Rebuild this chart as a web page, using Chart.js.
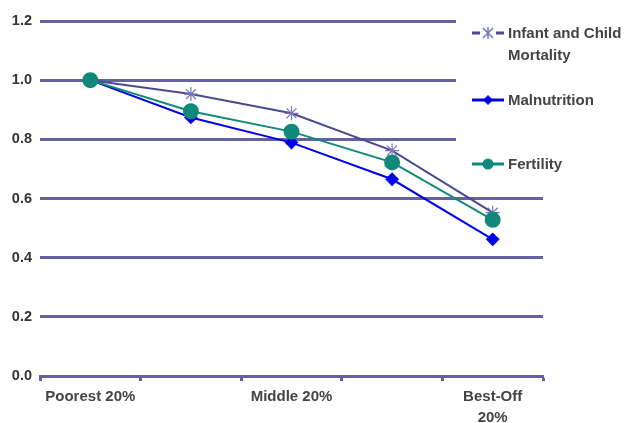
<!DOCTYPE html>
<html>
<head>
<meta charset="utf-8">
<script src="https://cdn.jsdelivr.net/npm/chart.js@4/dist/chart.umd.min.js"></script>
<style>
  html, body { margin: 0; padding: 0; background: #fff; }
  #wrap { position: relative; width: 624px; height: 423px; }
  #chart { position: absolute; left: 0; top: 0; }
  .legend-item { position: absolute; left: 470px; display: flex; align-items: flex-start;
    font: bold 15px "Liberation Sans", Arial, sans-serif; color: #444; line-height: 22px; }
</style>
</head>
<body>
<div id="wrap">
  <canvas id="chart" width="624" height="423"></canvas>
  <div class="legend-item" style="top: 22px;"><canvas id="leg-0" width="38" height="22"></canvas><span>Infant and Child<br>Mortality</span></div>
  <div class="legend-item" style="top: 89px;"><canvas id="leg-1" width="38" height="22"></canvas><span>Malnutrition</span></div>
  <div class="legend-item" style="top: 153px;"><canvas id="leg-2" width="38" height="22"></canvas><span>Fertility</span></div>
</div>
<script>
const categories = ["Poorest 20%", "", "Middle 20%", "", ["Best-Off", "20%"]];
const yTicks = [0, 0.2, 0.4, 0.6, 0.8, 1.0, 1.2];

const mortality = [1.0, 0.953, 0.888, 0.762, 0.552];
const malnutrition = [1.0, 0.874, 0.789, 0.665, 0.462];
const fertility = [1.0, 0.895, 0.826, 0.722, 0.528];

const GRID_COLOR = "#6461a3";
const FONT_FAMILY = "'Liberation Sans', Arial, sans-serif";

// the legend box hides the right end of the top grid lines
const legendMask = {
  id: "legendMask",
  beforeDatasetsDraw(chart) {
    const ctx = chart.ctx;
    ctx.save();
    ctx.fillStyle = "#fff";
    ctx.fillRect(456, 0, 624 - 456, 180);
    ctx.restore();
  },
};

new Chart(document.getElementById("chart").getContext("2d"), {
  type: "line",
  data: {
    labels: categories,
    datasets: [
      {
        label: "Infant and Child Mortality",
        data: mortality,
        borderColor: "#4b4a90",
        borderWidth: 2,
        pointStyle: "star",
        pointRadius: 7,
        pointBorderColor: "#7676bc",
        pointBorderWidth: 1.2,
        pointBackgroundColor: "#7676bc",
        order: 2,
      },
      {
        label: "Malnutrition",
        data: malnutrition,
        borderColor: "#0000f0",
        borderWidth: 2,
        pointStyle: "rectRot",
        pointRadius: 5.5,
        pointBorderColor: "#0000f0",
        pointBackgroundColor: "#0000f0",
        order: 1,
      },
      {
        label: "Fertility",
        data: fertility,
        borderColor: "#10897a",
        borderWidth: 2,
        pointStyle: "circle",
        pointRadius: 7,
        pointBorderColor: "#10897a",
        pointBackgroundColor: "#10897a",
        order: 0,
      },
    ],
  },
  options: {
    responsive: false,
    animation: false,
    layout: { padding: { top: 21, right: 81, left: 0, bottom: 0 } },
    plugins: { legend: { display: false }, tooltip: { enabled: false } },
    elements: { line: { tension: 0 } },
    scales: {
      x: {
        offset: true,
        grid: {
          display: true,
          offset: true,
          drawOnChartArea: false,
          drawTicks: true,
          tickLength: 5,
          tickWidth: 3,
          tickColor: GRID_COLOR,
        },
        border: { display: true, color: GRID_COLOR, width: 3 },
        ticks: {
          autoSkip: false,
          maxRotation: 0,
          padding: 6,
          color: "#444",
          font: { family: FONT_FAMILY, size: 15, weight: "bold", lineHeight: 1.35 },
        },
        afterFit(scale) { scale.height = 47; },
      },
      y: {
        min: 0,
        max: 1.2,
        afterBuildTicks(scale) { scale.ticks = yTicks.map((v) => ({ value: v })); },
        grid: { color: GRID_COLOR, lineWidth: 3, drawTicks: false },
        border: { display: false },
        ticks: {
          padding: 8,
          color: "#333",
          font: { family: FONT_FAMILY, size: 14.5, weight: "bold" },
          callback: (v) => Number(v).toFixed(1),
        },
        afterFit(scale) { scale.width = 40; },
      },
    },
  },
  plugins: [legendMask],
});

// legend samples
function drawSample(id, color, markerColor, kind) {
  const ctx = document.getElementById(id).getContext("2d");
  const y = 11;
  const cx = 18;
  ctx.lineWidth = 3;
  ctx.strokeStyle = color;
  ctx.fillStyle = markerColor;
  ctx.beginPath();
  if (kind === "star") {
    ctx.moveTo(2, y); ctx.lineTo(10, y);
    ctx.moveTo(26, y); ctx.lineTo(34, y);
  } else {
    ctx.moveTo(2, y); ctx.lineTo(34, y);
  }
  ctx.stroke();
  if (kind === "star") {
    ctx.strokeStyle = markerColor;
    ctx.lineWidth = 1.5;
    ctx.beginPath();
    ctx.moveTo(cx - 5, y - 5); ctx.lineTo(cx + 5, y + 5);
    ctx.moveTo(cx + 5, y - 5); ctx.lineTo(cx - 5, y + 5);
    ctx.moveTo(cx, y - 6); ctx.lineTo(cx, y + 6);
    ctx.stroke();
  } else if (kind === "diamond") {
    ctx.beginPath();
    ctx.moveTo(cx, y - 5); ctx.lineTo(cx + 5, y); ctx.lineTo(cx, y + 5); ctx.lineTo(cx - 5, y);
    ctx.closePath();
    ctx.fill();
  } else {
    ctx.beginPath();
    ctx.arc(cx, y, 5.5, 0, Math.PI * 2);
    ctx.fill();
  }
}
drawSample("leg-0", "#4b4a90", "#7676bc", "star");
drawSample("leg-1", "#0000f0", "#0000f0", "diamond");
drawSample("leg-2", "#10897a", "#10897a", "circle");
</script>
</body>
</html>
